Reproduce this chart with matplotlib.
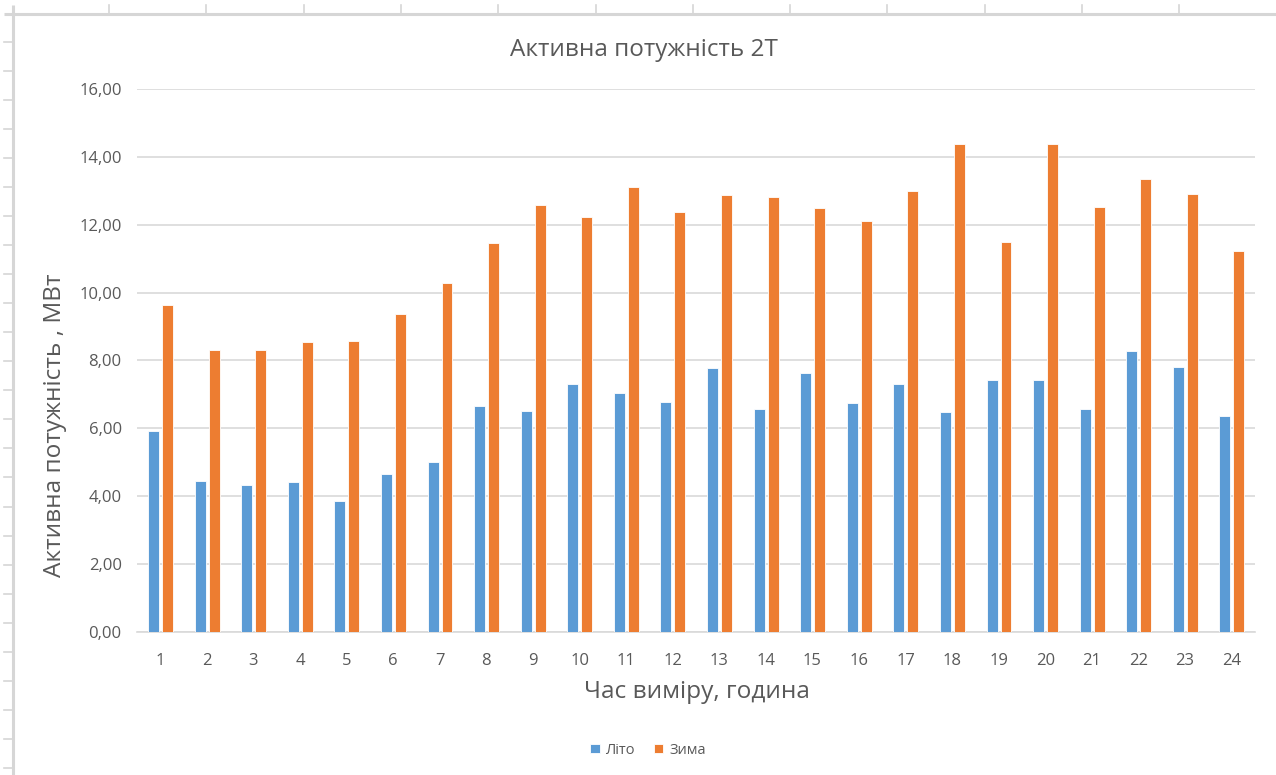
import matplotlib
matplotlib.use('Agg')
import matplotlib.pyplot as plt
from matplotlib.ticker import FuncFormatter
import numpy as np

plt.rcParams['font.family'] = ['Open Sans', 'DejaVu Sans']

# години виміру та активна потужність, МВт
hours = [str(h) for h in range(1, 25)]
lito = [5.91, 4.45, 4.32, 4.41, 3.86, 4.67, 5.01, 6.65, 6.52, 7.30, 7.03, 6.78,
        7.77, 6.56, 7.64, 6.74, 7.30, 6.48, 7.42, 7.42, 6.56, 8.28, 7.81, 6.35]
zyma = [9.65, 8.32, 8.32, 8.54, 8.58, 9.36, 10.29, 11.45, 12.57, 12.23, 13.12, 12.37,
        12.87, 12.83, 12.48, 12.10, 13.00, 14.39, 11.50, 14.39, 12.53, 13.34, 12.92, 11.24]
series_names = ['Літо', 'Зима']
y_ticks = [0, 2, 4, 6, 8, 10, 12, 14, 16]

# рамка аркуша Excel навколо діаграми (пікселі)
sheet_col_marks = [109 + 97.3 * k for k in range(13)]
sheet_row_marks = [41.7 + 29.05 * k for k in range(26)]

W, H = 1276, 775
fig = plt.figure(figsize=(W / 100, H / 100), dpi=100)
fig.patch.set_facecolor('white')

frame = fig.add_axes([0, 0, 1, 1])
frame.set_xlim(0, W)
frame.set_ylim(H, 0)
frame.axis('off')
grey = '#d6d6d6'
frame.plot([4, W], [13.5, 13.5], color=grey, lw=2.2, solid_capstyle='butt')
frame.plot([12.5, 12.5], [5, H], color=grey, lw=2.2, solid_capstyle='butt')
for x in sheet_col_marks:
    frame.plot([x, x], [5, 13], color=grey, lw=1.2)
for y in sheet_row_marks:
    frame.plot([4, 12], [y, y], color=grey, lw=1.2)

ax = fig.add_axes([137 / W, 1 - 632 / H, (1255 - 137) / W, (632 - 89) / H])
x = np.arange(len(hours))
w = 0.235
c_blue = '#5b9bd5'
c_orange = '#ed7d31'
ax.bar(x - 0.145, lito, width=w, color=c_blue, edgecolor='white', linewidth=0.6,
       label=series_names[0], zorder=3)
ax.bar(x + 0.155, zyma, width=w, color=c_orange, edgecolor='white', linewidth=0.6,
       label=series_names[1], zorder=3)

ax.set_xlim(-0.5, len(hours) - 0.5)
ax.set_ylim(0, 16)
ax.set_yticks(y_ticks)
ax.yaxis.set_major_formatter(FuncFormatter(lambda v, p: f'{v:.2f}'.replace('.', ',')))
ax.set_xticks(x)
ax.set_xticklabels(hours)
ax.grid(axis='y', color='#d9d9d9', lw=1.2, zorder=0)
for s in ['top', 'right', 'left']:
    ax.spines[s].set_visible(False)
ax.spines['bottom'].set_color('#d9d9d9')
ax.spines['bottom'].set_linewidth(1.2)
ax.tick_params(axis='both', length=0, colors='#595959', labelsize=12)
ax.tick_params(axis='y', pad=11)
ax.tick_params(axis='x', pad=15)

txt = '#595959'
fig.text(644 / W, 1 - 50 / H, 'Активна потужність 2T', ha='center', va='center',
         fontsize=17.5, color=txt)
fig.text(697 / W, 1 - 692 / H, 'Час виміру, година', ha='center', va='center',
         fontsize=17.6, color=txt)
fig.text(55 / W, 1 - 425 / H, 'Активна потужність , МВт', ha='center', va='center',
         rotation=90, fontsize=17.6, color=txt)

leg = fig.legend(loc='center', bbox_to_anchor=(648 / W, 1 - 750 / H), ncol=2,
                 frameon=False, fontsize=10.5, handlelength=0.65, handleheight=0.65,
                 handletextpad=0.4, columnspacing=1.3)
for t in leg.get_texts():
    t.set_color(txt)

fig.savefig('out.png', dpi=100, facecolor='white')
